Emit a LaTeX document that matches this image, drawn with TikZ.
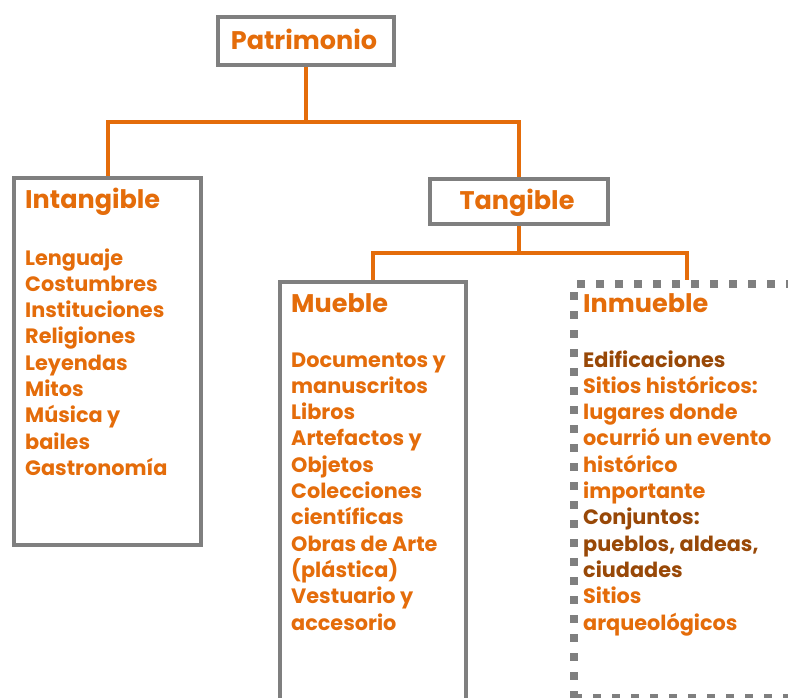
\documentclass[tikz,border=0pt]{standalone}
\usepackage{fontspec}
\setmainfont{Poppins}
\definecolor{accent}{HTML}{E46C0A}
\definecolor{darkaccent}{HTML}{984807}
\definecolor{frame}{HTML}{7F7F7F}
\begin{document}
\begin{tikzpicture}[x=1pt,y=-1pt,
  box/.style={draw=frame, line width=4pt, rectangle, inner sep=0pt, anchor=north west},
  dotbox/.style={draw=frame, line width=8pt, dash pattern=on 8pt off 11pt, rectangle, inner sep=0pt, anchor=north west},
  conn/.style={draw=accent, line width=4pt, line join=miter},
  title/.style={text=accent, font=\fontsize{25.5}{30}\selectfont\bfseries, inner sep=0pt},
  items/.style={text=accent, font=\fontsize{20.8}{26.3}\selectfont\bfseries, align=left, inner sep=0pt, anchor=base west}
]
\useasboundingbox (0,0) rectangle (788,698);

% boxes
\node[box, minimum width=176pt, minimum height=48pt] (patri) at (216,15) {};
\node[box, minimum width=187pt, minimum height=367pt] (intang) at (12,176) {};
\node[box, minimum width=178pt, minimum height=45pt] (tang) at (428,177) {};
\node[box, minimum width=186pt, minimum height=440pt] (mueble) at (278,280) {};
\node[dotbox, minimum width=226pt, minimum height=414pt] (inmueble) at (570,280) {};

% connectors
\draw[conn] (patri.south) -- ++(0,55) coordinate (j1);
\draw[conn] (j1) -| (intang.north);
\draw[conn] (j1) -| (tang.north);
\draw[conn] (tang.south) -- ++(0,27) coordinate (j2);
\draw[conn] (j2) -| (mueble.north);
\draw[conn] (j2) -| (inmueble.north);

% titles
\node[title, anchor=base] (tpatri) at (304,50) {Patrimonio};
\node[title, anchor=base west] (tintang) at (25,209) {Intangible};
\node[title, anchor=base] (ttang) at (517,210) {Tangible};
\node[title, anchor=base west] (tmueble) at (291,312) {Mueble};
\node[title, anchor=base west] (tinmueble) at (583,312) {Inmueble};

% lists (anchored at the baseline of their last line)
\node[items] (lintang) at (25,475.4) {Lenguaje\\Costumbres\\Instituciones\\Religiones\\Leyendas\\Mitos\\Música y\\bailes\\Gastronomía};
\node[items] (lmueble) at (291,630) {Documentos y\\manuscritos\\Libros\\Artefactos y\\Objetos\\Colecciones\\científicas\\Obras de Arte\\(plástica)\\Vestuario y\\accesorio};
\node[items] (linmueble) at (583,630) {\textcolor{darkaccent}{Edificaciones}\\Sitios históricos:\\lugares donde\\ocurrió un evento\\histórico\\importante\\\textcolor{darkaccent}{Conjuntos:}\\\textcolor{darkaccent}{pueblos, aldeas,}\\\textcolor{darkaccent}{ciudades}\\Sitios\\arqueológicos};
\end{tikzpicture}
\end{document}
